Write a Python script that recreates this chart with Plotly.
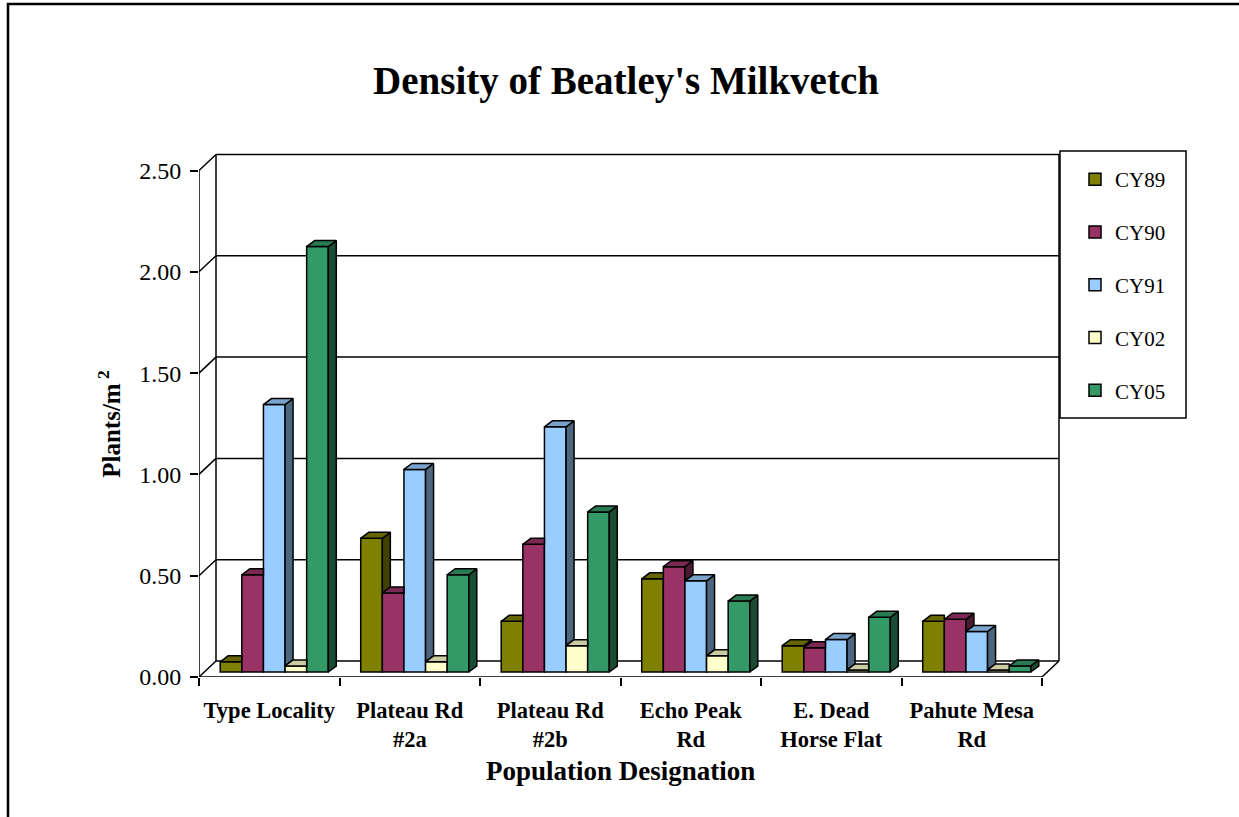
import plotly.graph_objects as go

# ---------------- data ----------------
categories = ["Type Locality", "Plateau Rd<br>#2a", "Plateau Rd<br>#2b",
              "Echo Peak<br>Rd", "E. Dead<br>Horse Flat", "Pahute Mesa<br>Rd"]
series_names = ["CY89", "CY90", "CY91", "CY02", "CY05"]
CY89 = [0.05, 0.66, 0.25, 0.46, 0.13, 0.25]
CY90 = [0.48, 0.39, 0.63, 0.52, 0.12, 0.26]
CY91 = [1.32, 1.00, 1.21, 0.45, 0.16, 0.20]
CY02 = [0.03, 0.05, 0.13, 0.08, 0.01, 0.01]
CY05 = [2.10, 0.48, 0.79, 0.35, 0.27, 0.03]
series_values = [CY89, CY90, CY91, CY02, CY05]
y_ticks = [0.0, 0.5, 1.0, 1.5, 2.0, 2.5]

# ---------------- style ----------------
colors = ["#808000", "#993366", "#99CCFF", "#FFFFCC", "#339966"]
FONT = "Liberation Serif"

def shade(hexcol, f):
    h = hexcol.lstrip("#")
    r, g, b = (int(h[i:i + 2], 16) for i in (0, 2, 4))
    return "rgb(%d,%d,%d)" % (round(r * f), round(g * f), round(b * f))

W, H = 1239, 817
plot_left, plot_right, plot_top, plot_bottom = 199, 1060, 150, 677
cat_px = 140.5          # pixels per category on the front plane
val_px = 202.6          # pixels per unit of value
n = len(categories)
x_range = [-0.5, -0.5 + (plot_right - plot_left) / cat_px]
y_range = [0, (plot_bottom - plot_top) / val_px]

def dx(p): return p / cat_px
def dy(p): return p / val_px

wall_dx, wall_dy = dx(17), dy(16)      # back wall offset
face_dx, face_dy = dx(5), dy(5)        # bar front-face offset
bar_dx, bar_dy = dx(8), dy(6)          # bar depth
gap_width = 1.5                        # Excel gap width 150%
nser = len(series_values)
bw = 1.0 / (nser + gap_width)

fig = go.Figure()

for k, (name, vals) in enumerate(zip(series_names, series_values)):
    off = -nser * bw / 2 + k * bw + face_dx
    fig.add_trace(go.Bar(
        x=list(range(n)), y=vals, base=face_dy, width=bw, offset=off,
        name=name, legendgroup=name,
        marker=dict(color=colors[k], line=dict(color="black", width=1.5)),
        hoverinfo="skip"))

for k, vals in enumerate(series_values):
    tx, ty, sx, sy = [], [], [], []
    for i in range(n):
        xl = i - nser * bw / 2 + k * bw + face_dx
        xr = xl + bw
        base = face_dy
        top = base + vals[i]
        nxt = base + series_values[k + 1][i] if k + 1 < nser else None
        if nxt is not None and nxt >= top:
            tx += [xl, xr, xr, xl + bar_dx, xl, None]
            ty += [top, top, top + bar_dy, top + bar_dy, top, None]
        else:
            tx += [xl, xr, xr + bar_dx, xl + bar_dx, xl, None]
            ty += [top, top, top + bar_dy, top + bar_dy, top, None]
        low = base if nxt is None else max(base, nxt)
        if low < top:
            sx += [xr, xr, xr + bar_dx, xr + bar_dx, xr, None]
            sy += [low, top, top + bar_dy, low + bar_dy, low, None]
    fig.add_trace(go.Scatter(x=sx, y=sy, mode="lines", fill="toself",
                             fillcolor=shade(colors[k], 0.5),
                             line=dict(color="black", width=1.5),
                             showlegend=False, hoverinfo="skip"))
    fig.add_trace(go.Scatter(x=tx, y=ty, mode="lines", fill="toself",
                             fillcolor=shade(colors[k], 0.8),
                             line=dict(color="black", width=1.5),
                             showlegend=False, hoverinfo="skip"))

shapes = []
line = dict(color="black", width=1.5)
xL, xR = -0.5, n - 0.5
ytop = y_ticks[-1]
shapes.append(dict(type="line", xref="x", yref="y", x0=xL, y0=0, x1=xL, y1=ytop, line=line, layer="below"))
shapes.append(dict(type="line", xref="x", yref="y", x0=xL + wall_dx, y0=wall_dy, x1=xL + wall_dx, y1=ytop + wall_dy, line=line, layer="below"))
shapes.append(dict(type="line", xref="x", yref="y", x0=xR + wall_dx, y0=wall_dy, x1=xR + wall_dx, y1=ytop + wall_dy, line=line, layer="below"))
shapes.append(dict(type="line", xref="x", yref="y", x0=xL, y0=0, x1=xR, y1=0, line=line, layer="below"))
shapes.append(dict(type="line", xref="x", yref="y", x0=xR, y0=0, x1=xR + wall_dx, y1=wall_dy, line=line, layer="below"))
for v in y_ticks:
    shapes.append(dict(type="line", xref="x", yref="y", x0=xL, y0=v, x1=xL + wall_dx, y1=v + wall_dy, line=line, layer="below"))
    shapes.append(dict(type="line", xref="x", yref="y", x0=xL + wall_dx, y0=v + wall_dy, x1=xR + wall_dx, y1=v + wall_dy, line=line, layer="below"))

pw, ph = plot_right - plot_left, plot_bottom - plot_top
def px2paper_x(p): return (p - plot_left) / pw
def px2paper_y(p): return (plot_bottom - p) / ph

# outer frame
shapes.append(dict(type="rect", xref="paper", yref="paper",
                   x0=px2paper_x(8), y0=px2paper_y(4), x1=px2paper_x(1260), y1=px2paper_y(840),
                   line=dict(color="black", width=2.5), layer="below"))
# legend box
shapes.append(dict(type="rect", xref="paper", yref="paper",
                   x0=px2paper_x(1060), y0=px2paper_y(151), x1=px2paper_x(1186), y1=px2paper_y(418),
                   line=dict(color="black", width=1.5), fillcolor="white", layer="above"))

fig.update_layout(
    width=W, height=H,
    margin=dict(l=plot_left, r=W - plot_right, t=plot_top, b=H - plot_bottom, pad=0),
    paper_bgcolor="white", plot_bgcolor="white",
    barmode="overlay",
    shapes=shapes,
    showlegend=True,
    font=dict(family=FONT, color="black"),
    title=dict(text="<b>Density of Beatley's Milkvetch</b>", font=dict(family=FONT, size=39, color="black"),
               x=626 / W, xanchor="center", y=1 - 80 / H, yanchor="middle", xref="container", yref="container"),
    legend=dict(x=px2paper_x(1075), xanchor="left", y=px2paper_y(159), yanchor="top",
                borderwidth=0, bgcolor="rgba(0,0,0,0)",
                font=dict(family=FONT, size=21, color="black"),
                tracegroupgap=22.5),
    xaxis=dict(range=x_range, tickvals=list(range(n)), ticktext=categories,
               ticks="", showgrid=False, zeroline=False, showline=False,
               tickfont=dict(family=FONT, size=22.5, color="black", weight="bold"),
               ticklabelstandoff=17,
               minor=dict(tickvals=[i - 0.5 for i in range(n + 1)], ticks="outside",
                          ticklen=8, tickwidth=1.5, tickcolor="black", showgrid=False)),
    yaxis=dict(range=y_range, tickvals=y_ticks, tickformat=".2f", ticks="outside",
               ticklen=8, tickwidth=1.5, tickcolor="black", showgrid=False,
               zeroline=False, showline=False,
               tickfont=dict(family=FONT, size=24, color="black"), ticklabelstandoff=4),
    annotations=[
        dict(text="<b>Population Designation</b>", xref="x", yref="paper",
             x=(n - 1) / 2, y=0, yshift=-111, showarrow=False,
             font=dict(family=FONT, size=27, color="black")),
        dict(text="<b>Plants/m<sup> 2</sup></b>", xref="paper", yref="y",
             x=0, xshift=-108, y=ytop / 2, showarrow=False, textangle=-90,
             font=dict(family=FONT, size=25, color="black")),
    ],
)

fig.write_html("out.html", config={"displayModeBar": False},
               post_script="document.body.style.margin='0px';")
